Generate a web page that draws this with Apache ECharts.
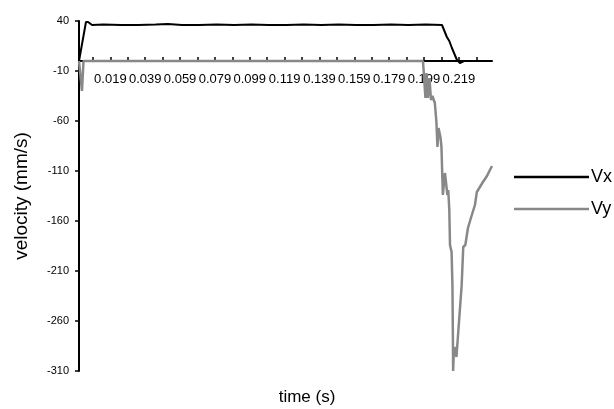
<!DOCTYPE html>
<html>
<head>
<meta charset="utf-8">
<script src="https://cdn.jsdelivr.net/npm/echarts@6/dist/echarts.min.js"></script>
<style>
html,body{margin:0;padding:0;background:#fff;}
#chart{width:614px;height:409px;}
</style>
</head>
<body>
<div id="chart"></div>
<script>
// Vx series (time s, velocity mm/s)
const vxTime = [0.001, 0.005, 0.0062, 0.0085, 0.015, 0.025, 0.035, 0.045, 0.052, 0.06, 0.07, 0.08, 0.09, 0.10, 0.11, 0.12, 0.13, 0.14, 0.15, 0.16, 0.17, 0.18, 0.19, 0.20, 0.2093, 0.2121, 0.2135, 0.2150, 0.2179, 0.2196, 0.2219, 0.238];
const vxValue = [0, 39, 39, 36, 36.5, 36, 36, 36.5, 37, 36, 36, 36.5, 36, 36.5, 36, 36, 36.5, 36, 36.5, 36, 36, 36.5, 36, 36.5, 36, 24, 20, 13, 1, -2, 0, 0];
// Vy series
const vyTime = [0.001, 0.0021, 0.0027, 0.0036, 0.1984, 0.1998, 0.2004, 0.2012, 0.2021, 0.2030, 0.2038, 0.2052, 0.2061, 0.2064, 0.2067, 0.2073, 0.2084, 0.2090, 0.2098, 0.2107, 0.2110, 0.2118, 0.2124, 0.2129, 0.2135, 0.2139, 0.2148, 0.2153, 0.2156, 0.2157, 0.2161, 0.2167, 0.2176, 0.2184, 0.2206, 0.2215, 0.2227, 0.2242, 0.2259, 0.2282, 0.2293, 0.2302, 0.2328, 0.2351, 0.2368, 0.2380];
const vyValue = [0, 0, -30, 0, 0, -37, -12, -37, -17, -39, -35, -42, -61, -59, -86, -67, -76, -86, -134, -134, -112, -111, -134, -129, -149, -184, -191, -224, -286, -310, -289, -286, -296, -296, -224, -186, -184, -167, -157, -144, -131, -129, -121, -115, -109, -105];
// axis ticks / labels
const xTickValues = [0.009, 0.019, 0.029, 0.039, 0.049, 0.059, 0.069, 0.079, 0.089, 0.099, 0.109, 0.119, 0.129, 0.139, 0.149, 0.159, 0.169, 0.179, 0.189, 0.199, 0.209, 0.219, 0.229];
const xLabelValues = [0.019, 0.039, 0.059, 0.079, 0.099, 0.119, 0.139, 0.159, 0.179, 0.199, 0.219];
const seriesNames = ['Vx', 'Vy'];

const pairs = (ts, vs) => ts.map((t, i) => [t, vs[i]]);
const FONT = '"Liberation Sans", Arial, sans-serif';

const chart = echarts.init(document.getElementById('chart'), null, {renderer: 'canvas'});
chart.setOption({
  animation: false,
  backgroundColor: '#ffffff',
  grid: {left: 79, top: 21, right: 122, bottom: 38, containLabel: false},
  xAxis: {
    type: 'value', min: 0.001, max: 0.238, position: 'bottom', offset: -310,
    axisLine: {onZero: false, lineStyle: {color: '#000', width: 2}},
    axisTick: {show: true, inside: true, length: 4, lineStyle: {color: '#000', width: 1.5}, customValues: xTickValues},
    axisLabel: {customValues: xLabelValues, formatter: v => v.toFixed(3), color: '#000', fontSize: 13, fontFamily: FONT, margin: 12},
    splitLine: {show: false}
  },
  yAxis: {
    type: 'value', min: -310, max: 40, interval: 50,
    name: 'velocity (mm/s)', nameLocation: 'middle', nameGap: 48, nameRotate: 90,
    nameTextStyle: {color: '#000', fontSize: 19, fontFamily: FONT},
    axisLine: {show: true, lineStyle: {color: '#000', width: 2}},
    axisTick: {show: true, length: 4, lineStyle: {color: '#000', width: 1.5}},
    axisLabel: {color: '#000', fontSize: 11, fontFamily: FONT, margin: 10},
    splitLine: {show: false}
  },
  legend: {
    orient: 'vertical', left: 509, top: 163, itemGap: 14,
    itemWidth: 75, itemHeight: 2.5,
    data: [{name: seriesNames[0], icon: 'rect'}, {name: seriesNames[1], icon: 'rect'}],
    textStyle: {color: '#000', fontSize: 18, fontFamily: FONT, padding: [0, 0, 0, -3]}
  },
  graphic: [{
    type: 'text', left: 'center', top: 389,
    style: {text: 'time (s)', fill: '#000', font: '17px ' + FONT, x: 0, y: 0}
  }],
  series: [
    {name: seriesNames[0], type: 'line', data: pairs(vxTime, vxValue), symbol: 'none', color: '#000',
     lineStyle: {color: '#000', width: 2}, z: 3},
    {name: seriesNames[1], type: 'line', data: pairs(vyTime, vyValue), symbol: 'none', color: '#888888',
     lineStyle: {color: '#888888', width: 2.5}, z: 4}
  ]
});
</script>
</body>
</html>
